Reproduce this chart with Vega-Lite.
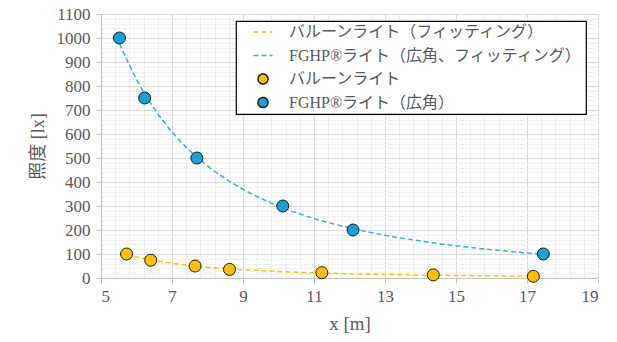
{
  "$schema": "https://vega.github.io/schema/vega-lite/v6.json",
  "width": 497,
  "height": 264,
  "autosize": "none",
  "padding": {"left": 101, "top": 14, "right": 19, "bottom": 64},
  "background": "white",
  "config": {
    "view": {"stroke": null},
    "axis": {
      "labelFontSize": 17,
      "labelColor": "#595959",
      "titleFontSize": 18,
      "titleFontWeight": "normal",
      "titleColor": "#595959",
      "domainColor": "#bfbfbf",
      "tickColor": "#bfbfbf",
      "gridColor": "#d9d9d9",
      "gridWidth": 1
    },
    "legend": {
      "orient": "none",
      "legendX": 135,
      "legendY": 7,
      "fillColor": "white",
      "strokeColor": "black",
      "strokeWidth": 1.2,
      "padding": 3,
      "symbolSize": 100,
      "symbolStrokeWidth": 1.5,
      "labelFont": "Liberation Serif, Noto Sans CJK JP",
      "labelFontSize": 16,
      "labelColor": "#595959",
      "labelLimit": 500,
      "labelOffset": 18,
      "symbolOffset": 16,
      "rowPadding": 7.5
    }
  },
  "datasets": {
    "pts": [
      {"x": 5.72, "y": 100, "series": "バルーンライト"},
      {"x": 6.40, "y": 74, "series": "バルーンライト"},
      {"x": 7.65, "y": 50, "series": "バルーンライト"},
      {"x": 8.62, "y": 36, "series": "バルーンライト"},
      {"x": 11.22, "y": 22, "series": "バルーンライト"},
      {"x": 14.36, "y": 13, "series": "バルーンライト"},
      {"x": 17.18, "y": 7, "series": "バルーンライト"},
      {"x": 5.52, "y": 1000, "series": "FGHP®ライト（広角）"},
      {"x": 6.23, "y": 750, "series": "FGHP®ライト（広角）"},
      {"x": 7.70, "y": 500, "series": "FGHP®ライト（広角）"},
      {"x": 10.12, "y": 300, "series": "FGHP®ライト（広角）"},
      {"x": 12.10, "y": 200, "series": "FGHP®ライト（広角）"},
      {"x": 17.46, "y": 100, "series": "FGHP®ライト（広角）"}
    ],
    "fit": [
      {"x": 5.72, "y": 98, "series": "バルーンライト（フィッティング）"},
      {"x": 6.0, "y": 88, "series": "バルーンライト（フィッティング）"},
      {"x": 6.5, "y": 73, "series": "バルーンライト（フィッティング）"},
      {"x": 7.0, "y": 61.6, "series": "バルーンライト（フィッティング）"},
      {"x": 7.5, "y": 52.5, "series": "バルーンライト（フィッティング）"},
      {"x": 8.0, "y": 45.3, "series": "バルーンライト（フィッティング）"},
      {"x": 9.0, "y": 34.5, "series": "バルーンライト（フィッティング）"},
      {"x": 10.0, "y": 27.0, "series": "バルーンライト（フィッティング）"},
      {"x": 11.0, "y": 21.7, "series": "バルーンライト（フィッティング）"},
      {"x": 12.0, "y": 17.7, "series": "バルーンライト（フィッティング）"},
      {"x": 13.0, "y": 14.7, "series": "バルーンライト（フィッティング）"},
      {"x": 14.0, "y": 12.4, "series": "バルーンライト（フィッティング）"},
      {"x": 15.0, "y": 10.6, "series": "バルーンライト（フィッティング）"},
      {"x": 16.0, "y": 9.1, "series": "バルーンライト（フィッティング）"},
      {"x": 17.0, "y": 7.9, "series": "バルーンライト（フィッティング）"},
      {"x": 17.18, "y": 7.7, "series": "バルーンライト（フィッティング）"},
      {"x": 5.52, "y": 977, "series": "FGHP®ライト（広角、フィッティング）"},
      {"x": 6.0, "y": 828, "series": "FGHP®ライト（広角、フィッティング）"},
      {"x": 6.5, "y": 706, "series": "FGHP®ライト（広角、フィッティング）"},
      {"x": 7.0, "y": 609, "series": "FGHP®ライト（広角、フィッティング）"},
      {"x": 7.5, "y": 531, "series": "FGHP®ライト（広角、フィッティング）"},
      {"x": 8.0, "y": 467, "series": "FGHP®ライト（広角、フィッティング）"},
      {"x": 9.0, "y": 370, "series": "FGHP®ライト（広角、フィッティング）"},
      {"x": 10.0, "y": 300, "series": "FGHP®ライト（広角、フィッティング）"},
      {"x": 11.0, "y": 248, "series": "FGHP®ライト（広角、フィッティング）"},
      {"x": 12.0, "y": 209, "series": "FGHP®ライト（広角、フィッティング）"},
      {"x": 13.0, "y": 178, "series": "FGHP®ライト（広角、フィッティング）"},
      {"x": 14.0, "y": 154, "series": "FGHP®ライト（広角、フィッティング）"},
      {"x": 15.0, "y": 134, "series": "FGHP®ライト（広角、フィッティング）"},
      {"x": 16.0, "y": 118, "series": "FGHP®ライト（広角、フィッティング）"},
      {"x": 17.0, "y": 104.6, "series": "FGHP®ライト（広角、フィッティング）"},
      {"x": 17.46, "y": 99, "series": "FGHP®ライト（広角、フィッティング）"}
    ]
  },
  "layer": [
    {
      "data": {"name": "pts"},
      "mark": {"type": "point", "opacity": 0},
      "encoding": {
        "x": {
          "field": "x", "type": "quantitative",
          "scale": {"domain": [5, 19], "nice": false, "zero": false},
          "axis": {
            "orient": "top", "title": null, "labels": false, "ticks": false, "domain": false,
            "gridColor": "#efefef",
            "values": [5.4,5.8,6.2,6.6,7.4,7.8,8.2,8.6,9.4,9.8,10.2,10.6,11.4,11.8,12.2,12.6,13.4,13.8,14.2,14.6,15.4,15.8,16.2,16.6,17.4,17.8,18.2,18.6]
          }
        },
        "y": {
          "field": "y", "type": "quantitative",
          "scale": {"domain": [0, 1100], "nice": false, "zero": true},
          "axis": {
            "orient": "right", "title": null, "labels": false, "ticks": false, "domain": false,
            "gridColor": "#efefef",
            "values": [20,40,60,80,120,140,160,180,220,240,260,280,320,340,360,380,420,440,460,480,520,540,560,580,620,640,660,680,720,740,760,780,820,840,860,880,920,940,960,980,1020,1040,1060,1080]
          }
        }
      }
    },
    {
      "data": {"name": "fit"},
      "mark": {"type": "line", "strokeWidth": 1.5, "interpolate": "monotone"},
      "encoding": {
        "x": {
          "field": "x", "type": "quantitative",
          "axis": {
            "orient": "bottom", "title": "x [m]", "values": [5,7,9,11,13,15,17,19], "format": "d",
            "labelFont": "Liberation Serif", "labelFontSize": 17, "labelColor": "#595959",
            "titleFont": "Liberation Serif", "titleFontSize": 19,
            "tickSize": 5, "labelPadding": 5, "titlePadding": 10, "grid": true
          }
        },
        "y": {
          "field": "y", "type": "quantitative",
          "axis": {
            "orient": "left", "title": "照度 [lx]", "format": "d",
            "labelFont": "Liberation Serif", "labelFontSize": 17, "labelColor": "#595959",
            "titleFont": "Liberation Serif, Noto Sans CJK JP", "titleFontSize": 18,
            "values": [0,100,200,300,400,500,600,700,800,900,1000,1100],
            "tickSize": 5, "labelPadding": 6, "titlePadding": 9, "grid": true
          }
        },
        "stroke": {
          "field": "series", "type": "nominal",
          "scale": {
            "domain": ["バルーンライト（フィッティング）", "FGHP®ライト（広角、フィッティング）", "バルーンライト", "FGHP®ライト（広角）"],
            "range": ["#FFC000", "#29B5E8", "#1a1a1a", "#1a1a1a"]
          },
          "legend": {"title": null}
        },
        "strokeDash": {
          "field": "series", "type": "nominal",
          "scale": {
            "domain": ["バルーンライト（フィッティング）", "FGHP®ライト（広角、フィッティング）", "バルーンライト", "FGHP®ライト（広角）"],
            "range": [[5, 3], [5, 3], [1, 0], [1, 0]]
          },
          "legend": {"title": null}
        }
      }
    },
    {
      "data": {"name": "pts"},
      "mark": {"type": "point", "filled": true, "size": 144, "strokeWidth": 1, "opacity": 1},
      "encoding": {
        "x": {"field": "x", "type": "quantitative", "axis": null},
        "y": {"field": "y", "type": "quantitative", "axis": null},
        "fill": {
          "field": "series", "type": "nominal",
          "scale": {
            "domain": ["バルーンライト（フィッティング）", "FGHP®ライト（広角、フィッティング）", "バルーンライト", "FGHP®ライト（広角）"],
            "range": ["#FFC000", "#29B5E8", "#FFC000", "#18A0DA"]
          },
          "legend": {"title": null}
        },
        "stroke": {
          "field": "series", "type": "nominal",
          "legend": {"title": null}
        },
        "shape": {
          "field": "series", "type": "nominal",
          "scale": {
            "domain": ["バルーンライト（フィッティング）", "FGHP®ライト（広角、フィッティング）", "バルーンライト", "FGHP®ライト（広角）"],
            "range": ["M-1.9,0H1.9", "M-1.9,0H1.9", "circle", "circle"]
          },
          "legend": {"title": null}
        }
      }
    }
  ],
  "resolve": {"axis": {"x": "independent", "y": "independent"}}
}
